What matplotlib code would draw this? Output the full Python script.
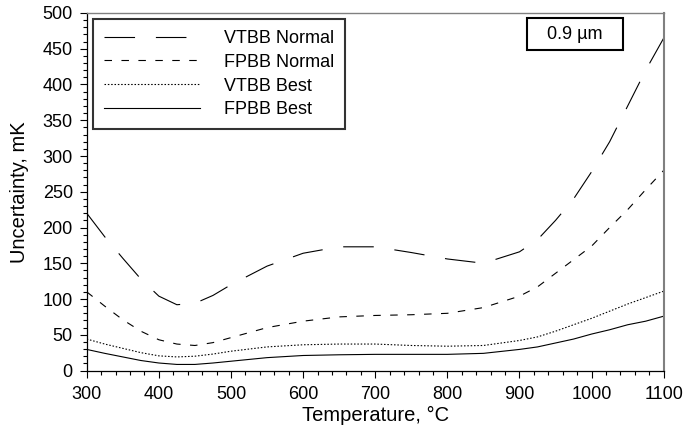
import matplotlib
matplotlib.use("Agg")
import matplotlib.pyplot as plt
from matplotlib.ticker import MultipleLocator
from matplotlib.patches import Rectangle

plt.rcParams['font.family'] = ['Liberation Sans', 'DejaVu Sans']
plt.rcParams['lines.scale_dashes'] = False

temperature = [300, 325, 350, 375, 400, 425, 450, 475, 500, 550, 600, 650, 700,
               750, 800, 850, 900, 925, 950, 975, 1000, 1025, 1050, 1075, 1100]

vtbb_normal = [220, 187, 157, 128, 104, 92, 94, 105, 120, 146, 164, 173, 173,
               165, 156, 150, 166, 183, 210, 240, 278, 320, 370, 420, 465]
fpbb_normal = [110, 90, 71, 55, 43, 37, 35, 39, 46, 60, 69, 75, 77,
               78, 80, 88, 104, 117, 136, 155, 174, 200, 225, 253, 280]
vtbb_best = [44, 37, 31, 25, 20.5, 19, 20, 23, 27, 33, 36, 37, 37,
             35, 34, 35, 42, 47, 55, 64, 73, 83, 93, 102, 111]
fpbb_best = [29.5, 24, 19, 14, 10.5, 8.5, 8.5, 10.5, 13, 18, 21, 22, 22.6,
             22.6, 22.6, 24, 29.5, 33, 38.5, 44, 51, 57, 64, 69, 76]

series_labels = ["VTBB Normal", "FPBB Normal", "VTBB Best", "FPBB Best"]
x_ticks = [300, 400, 500, 600, 700, 800, 900, 1000, 1100]
y_ticks = [0, 50, 100, 150, 200, 250, 300, 350, 400, 450, 500]
wavelength_label = "0.9 µm"

fig = plt.figure(figsize=(6.84, 4.36), dpi=100)
ax = fig.add_axes([0.1268, 0.1502, 0.8436, 0.8200])

styles = [(0, (22, 15)), (0, (5.4, 6.8)), (0, (1.1, 1.3)), '-']
for vals, lab, ls in zip([vtbb_normal, fpbb_normal, vtbb_best, fpbb_best], series_labels, styles):
    ax.plot(temperature, vals, color='black', lw=0.8, linestyle=ls, label=lab)

ax.set_xlim(300, 1100)
ax.set_ylim(0, 500)
ax.set_xticks(x_ticks)
ax.set_yticks(y_ticks)
ax.xaxis.set_minor_locator(MultipleLocator(20))
ax.yaxis.set_minor_locator(MultipleLocator(10))
ax.tick_params(which='major', direction='out', length=5, width=0.8, labelsize=13, colors='black')
ax.tick_params(axis='x', which='major', pad=6)
ax.tick_params(axis='y', which='major', pad=5)
ax.tick_params(which='minor', direction='out', length=3, width=0.8)

for s in ['left', 'bottom']:
    ax.spines[s].set_color('black')
    ax.spines[s].set_linewidth(0.9)
ax.spines['top'].set_color('#808080')
ax.spines['top'].set_linewidth(1.0)
ax.spines['right'].set_color('#808080')
ax.spines['right'].set_linewidth(1.5)

ax.set_xlabel("Temperature, °C", fontsize=14.5, labelpad=2)
ax.set_ylabel("Uncertainty, mK", fontsize=14.5, labelpad=9.5)

leg = ax.legend(loc='upper left', bbox_to_anchor=(0.011, 0.983), borderaxespad=0,
                fontsize=13, handlelength=5.3, handletextpad=1.35, labelspacing=0.38,
                borderpad=0.6, frameon=True, fancybox=False, markerfirst=True)
leg.get_frame().set_edgecolor('black')
leg.get_frame().set_linewidth(1.5)

ax.add_patch(Rectangle((0.7626, 0.8965), 0.1675, 0.0885, transform=ax.transAxes,
                       fill=False, edgecolor='black', lw=1.5, zorder=5))
ax.text(0.846, 0.941, wavelength_label, transform=ax.transAxes, ha='center', va='center',
        fontsize=13)

fig.savefig("out.png", dpi=100)
